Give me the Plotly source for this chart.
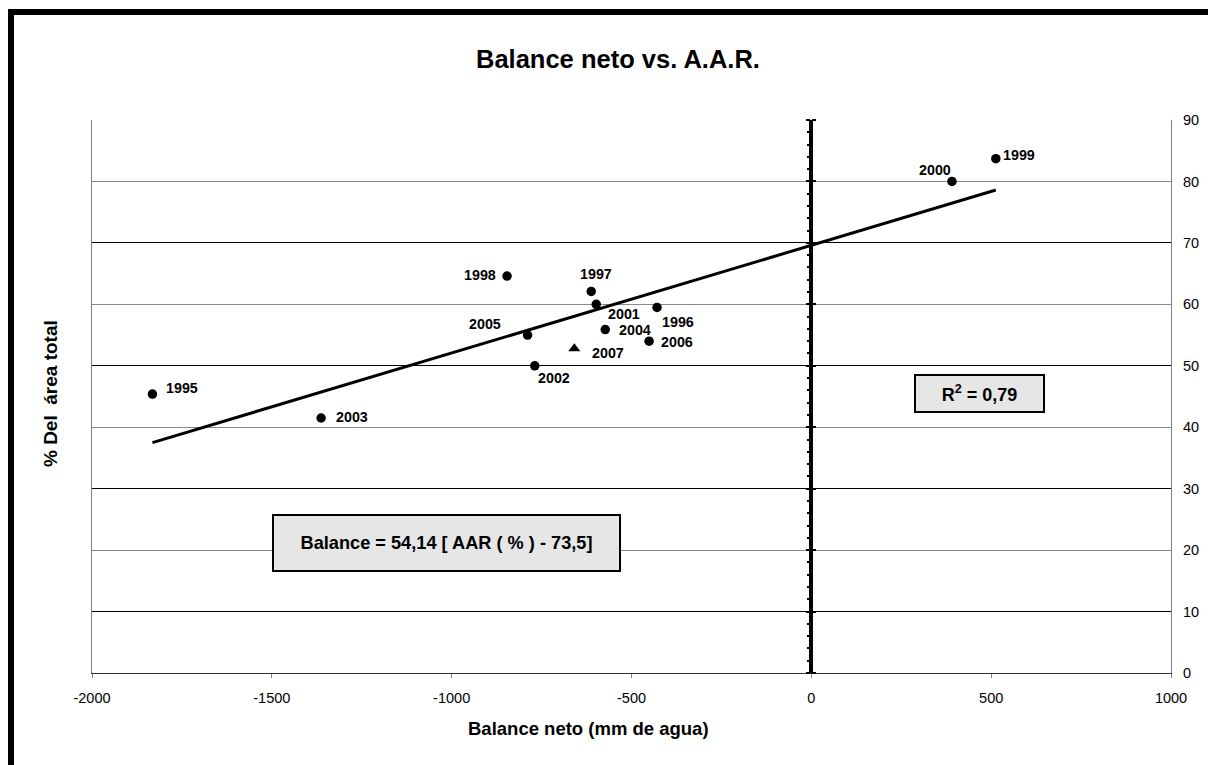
import plotly.graph_objects as go

# ---- data ----
years = ["1995", "1996", "1997", "1998", "1999", "2000", "2001", "2002", "2003", "2004", "2005", "2006"]
balance = [-1832, -429, -612, -846, 513, 391, -598, -769, -1363, -573, -789, -451]
aar = [45.4, 59.5, 62.1, 64.6, 83.7, 80.0, 60.0, 50.0, 41.5, 55.9, 55.0, 54.0]

year_2007 = ["2007"]
balance_2007 = [-659]
aar_2007 = [52.8]

trend_x = [-1832, 513]
trend_y = [37.5, 78.6]

x_ticks = [-2000, -1500, -1000, -500, 0, 500, 1000]
x_tick_labels = ["-2000", "-1500", "-1000", "-500", "0", "500", "1000"]
y_ticks = [0, 10, 20, 30, 40, 50, 60, 70, 80, 90]

title_text = "Balance neto vs. A.A.R."
x_title = "Balance neto (mm de agua)"
y_title = "% Del  área total"
eq_text = "Balance = 54,14 [ AAR ( % ) - 73,5]"
r2_text = "R<sup>2</sup> = 0,79"

# ---- label placement styles (pixel offsets: xanchor, dx, dy-up) ----
label_style = {
    "1995": ("left", 12, 7),
    "1996": ("left", 3, -14),
    "1997": ("center", 5, 18),
    "1998": ("right", -9, 2.5),
    "1999": ("left", 5, 4.5),
    "2000": ("center", -16.5, 12.5),
    "2001": ("left", 10, -9),
    "2002": ("left", 1.5, -11),
    "2003": ("left", 13, 2.5),
    "2004": ("left", 12, 0.5),
    "2005": ("right", -25, 12),
    "2006": ("left", 10, 0),
    "2007": ("left", 16, -3),
}

FONT = "Liberation Sans, Arial, sans-serif"

fig = go.Figure()

fig.add_trace(go.Scatter(x=trend_x, y=trend_y, mode="lines",
                         line=dict(color="black", width=3),
                         showlegend=False, hoverinfo="skip"))
fig.add_trace(go.Scatter(x=balance, y=aar, mode="markers",
                         marker=dict(symbol="circle", size=9.5, color="black"),
                         showlegend=False))
fig.add_trace(go.Scatter(x=balance_2007, y=aar_2007, mode="markers",
                         marker=dict(symbol="triangle-up", size=10.5, color="black"),
                         showlegend=False))
# empty traces to attach the overlay axes
for ax in ["y2", "y3", "y4"]:
    fig.add_trace(go.Scatter(x=[None], y=[None], yaxis=ax, showlegend=False, hoverinfo="skip"))

annotations = []
for yr, bx, ay in list(zip(years, balance, aar)) + list(zip(year_2007, balance_2007, aar_2007)):
    anc, dx, dy = label_style[yr]
    annotations.append(dict(x=bx, y=ay, xref="x", yref="y", text="<b>%s</b>" % yr,
                            showarrow=False, xanchor=anc, yanchor="middle",
                            xshift=dx, yshift=dy - 1,
                            font=dict(family=FONT, size=14.3, color="black")))

# title and axis titles
annotations.append(dict(text="<b>%s</b>" % title_text, x=0.4875, y=1.110, xref="paper", yref="paper",
                        showarrow=False, xanchor="center", yanchor="middle",
                        font=dict(family=FONT, size=25.5, color="black")))
annotations.append(dict(text="<b>%s</b>" % x_title, x=0.4606, y=-0.0995, xref="paper", yref="paper",
                        showarrow=False, xanchor="center", yanchor="middle",
                        font=dict(family=FONT, size=18.5, color="black")))
annotations.append(dict(text="<b>%s</b>" % y_title, x=-0.0389, y=0.5045, xref="paper", yref="paper",
                        showarrow=False, xanchor="center", yanchor="middle", textangle=-90,
                        font=dict(family=FONT, size=19, color="black")))

# boxes
annotations.append(dict(text="<b>%s</b>" % eq_text, x=-1015, y=21.2, xref="x", yref="y",
                        showarrow=False, xanchor="center", yanchor="middle",
                        width=343, height=52, borderpad=1, borderwidth=2,
                        bordercolor="black", bgcolor="#e6e6e6",
                        font=dict(family=FONT, size=18.2, color="black")))
annotations.append(dict(text="<b>%s</b>" % r2_text, x=468, y=45.5, xref="x", yref="y",
                        showarrow=False, xanchor="center", yanchor="middle",
                        width=125, height=33, borderpad=1, borderwidth=2,
                        bordercolor="black", bgcolor="#e6e6e6",
                        font=dict(family=FONT, size=18, color="black")))

# black frame of the chart area (top and left edges)
shapes = [
    dict(type="line", xref="paper", yref="paper", x0=(11 - 92) / 1079, x1=1.2,
         y0=(673 - 12) / 553, y1=(673 - 12) / 553, line=dict(color="black", width=6)),
    dict(type="line", xref="paper", yref="paper", x0=(11 - 92) / 1079, x1=(11 - 92) / 1079,
         y0=(673 - 9) / 553, y1=-0.3, line=dict(color="black", width=6)),
]

zero_pos = (0 - x_ticks[0]) / (x_ticks[-1] - x_ticks[0])

# the page has an 8px body margin, so the figure is 8px smaller and margins shifted
fig.update_layout(
    width=1208, height=757,
    margin=dict(l=84, r=45, t=112, b=92),
    paper_bgcolor="white", plot_bgcolor="white",
    showlegend=False,
    annotations=annotations,
    shapes=shapes,
    xaxis=dict(range=[x_ticks[0], x_ticks[-1]], tickvals=x_ticks, ticktext=x_tick_labels,
               showgrid=False, zeroline=False,
               showline=True, linecolor="#303030", linewidth=1,
               ticks="outside", ticklen=4, tickcolor="#808080",
               ticklabelstandoff=8,
               tickfont=dict(family=FONT, size=14.5, color="black")),
    yaxis=dict(range=[y_ticks[0], y_ticks[-1]], tickvals=y_ticks, side="right",
               showgrid=True, gridcolor="#8a8a8a", gridwidth=1.2, zeroline=False,
               showline=True, linecolor="#808080", linewidth=1, mirror=True,
               ticks="", ticklabelstandoff=8,
               tickfont=dict(family=FONT, size=14.5, color="black")),
    yaxis2=dict(range=[y_ticks[0], y_ticks[-1]], overlaying="y", tickvals=y_ticks[1::2],
                showgrid=True, gridcolor="black", gridwidth=1, zeroline=False,
                showticklabels=False, side="right", showline=False, ticks=""),
    yaxis3=dict(range=[y_ticks[0], y_ticks[-1]], overlaying="y", anchor="free", position=zero_pos,
                side="left", showgrid=False, zeroline=False, showticklabels=False,
                showline=True, linecolor="black", linewidth=3.5,
                tickvals=y_ticks, ticks="outside", ticklen=4, tickwidth=2, tickcolor="black",
                minor=dict(dtick=2, tick0=0, ticks="outside", ticklen=3, tickwidth=2, tickcolor="black")),
    yaxis4=dict(range=[y_ticks[0], y_ticks[-1]], overlaying="y", anchor="free", position=zero_pos,
                side="right", showgrid=False, zeroline=False, showticklabels=False,
                showline=False, tickvals=y_ticks, ticks="outside", ticklen=4, tickwidth=2,
                tickcolor="black"),
)

fig.write_html("out.html")
